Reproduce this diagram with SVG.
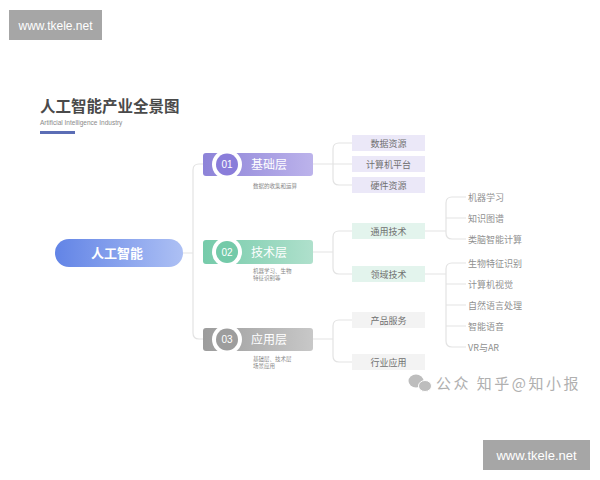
<svg xmlns="http://www.w3.org/2000/svg" width="600" height="480" viewBox="0 0 600 480">
<defs>
<linearGradient id="gMain" x1="0" y1="0" x2="1" y2="0"><stop offset="0" stop-color="#6284e6"/><stop offset="1" stop-color="#adc0f4"/></linearGradient>
<linearGradient id="gP" x1="0" y1="0" x2="1" y2="0"><stop offset="0" stop-color="#8d83d8"/><stop offset="1" stop-color="#bcb3eb"/></linearGradient>
<linearGradient id="gG" x1="0" y1="0" x2="1" y2="0"><stop offset="0" stop-color="#76cbaa"/><stop offset="1" stop-color="#afe0cc"/></linearGradient>
<linearGradient id="gA" x1="0" y1="0" x2="1" y2="0"><stop offset="0" stop-color="#9c9c9c"/><stop offset="1" stop-color="#c8c8c8"/></linearGradient>
<style>
.t{font-family:"Noto Sans CJK SC","Liberation Sans",sans-serif;}
.ln{fill:none;stroke:#e3e3e3;stroke-width:1.2;}
.lt{font-size:12px;fill:#fff;text-anchor:middle;}
.num{font-size:10px;fill:#fff;text-anchor:middle;font-family:"Liberation Sans",sans-serif;}
.sub{font-size:5.5px;fill:#888;}
.l2{font-size:9px;fill:#707070;text-anchor:middle;}
.l3{font-size:9px;fill:#909090;}
.ring{fill:#fff;}
</style>
</defs>
<rect width="600" height="480" fill="#fff"/>
<g id="wm-top"><rect x="9" y="10" width="93" height="30" fill="#a6a6a6"/><text x="55.5" y="29.5" font-size="12" fill="#fff" text-anchor="middle" font-family="Liberation Sans,sans-serif">www.tkele.net</text></g>
<g id="wm-bottom"><rect x="483" y="440" width="107" height="30" fill="#a6a6a6"/><text x="536.5" y="459.5" font-size="13" fill="#fff" text-anchor="middle" font-family="Liberation Sans,sans-serif">www.tkele.net</text></g>
<g id="title">
<text class="t" x="40" y="112" font-size="15.5" font-weight="bold" fill="#4a4a4a">人工智能产业全景图</text>
<text x="40" y="125" font-size="6.5" fill="#8a8a8a" font-family="Liberation Sans,sans-serif">Artificial Intelligence Industry</text>
<rect x="40" y="131" width="35" height="3" fill="#5b6db5"/>
</g>
<g id="connectors">
<path class="ln" d="M183 253 H193 M313 164 H333 M313 252 H333 M313 339 H333 M425 231 H446 M425 274 H446"/>
<path class="ln" d="M213 164 H199 Q193 164 193 170 V333 Q193 339 199 339 H213"/>
<path class="ln" d="M352 143 H339 Q333 143 333 149 V179 Q333 185 339 185 H352 M333 164 H352"/>
<path class="ln" d="M352 231 H339 Q333 231 333 237 V268 Q333 274 339 274 H352"/>
<path class="ln" d="M352 320 H339 Q333 320 333 326 V356 Q333 362 339 362 H352"/>
<path class="ln" d="M466 197 H452 Q446 197 446 203 V233 Q446 239 452 239 H466 M446 218 H466"/>
<path class="ln" d="M466 263 H452 Q446 263 446 269 V341 Q446 347 452 347 H466 M446 284 H466 M446 305 H466 M446 326 H466"/>
</g>
<g id="root"><rect x="55" y="239" width="128" height="28" rx="14" fill="url(#gMain)"/><text class="t" x="117" y="258" font-size="13" font-weight="bold" fill="#fff" text-anchor="middle">人工智能</text></g>
<g id="layer1">
<rect x="203" y="153" width="110" height="23" rx="3" fill="url(#gP)"/>
<circle class="ring" cx="227" cy="164.5" r="15"/><circle cx="227" cy="164.5" r="11" fill="#8a7dda"/>
<text class="num" x="227" y="168">01</text>
<text class="t lt" x="269" y="169">基础层</text>
<text class="t sub" x="253" y="188">数据的收集和运算</text>
</g>
<g id="layer2">
<rect x="203" y="240" width="110" height="24" rx="3" fill="url(#gG)"/>
<circle class="ring" cx="227" cy="252" r="15"/><circle cx="227" cy="252" r="11" fill="#74caa9"/>
<text class="num" x="227" y="255.5">02</text>
<text class="t lt" x="269" y="256.5">技术层</text>
<text class="t sub" x="253" y="273">机器学习、生物</text>
<text class="t sub" x="253" y="280">特征识别等</text>
</g>
<g id="layer3">
<rect x="203" y="328" width="110" height="23" rx="3" fill="url(#gA)"/>
<circle class="ring" cx="227" cy="339.5" r="15"/><circle cx="227" cy="339.5" r="11" fill="#9d9d9d"/>
<text class="num" x="227" y="343">03</text>
<text class="t lt" x="269" y="344">应用层</text>
<text class="t sub" x="253" y="361">基础层、技术层</text>
<text class="t sub" x="253" y="368">场景应用</text>
</g>
<g id="n-data"><rect x="352" y="135" width="73" height="16" fill="#ebe8f8"/><text class="t l2" x="388.5" y="146.5">数据资源</text></g>
<g id="n-comp"><rect x="352" y="156" width="73" height="16" fill="#ebe8f8"/><text class="t l2" x="388.5" y="167.5">计算机平台</text></g>
<g id="n-hw"><rect x="352" y="177" width="73" height="16" fill="#ebe8f8"/><text class="t l2" x="388.5" y="188.5">硬件资源</text></g>
<g id="n-gen"><rect x="352" y="223" width="73" height="16" fill="#e3f4ed"/><text class="t l2" x="388.5" y="234.5">通用技术</text></g>
<g id="n-dom"><rect x="352" y="266" width="73" height="16" fill="#e3f4ed"/><text class="t l2" x="388.5" y="277.5">领域技术</text></g>
<g id="n-prod"><rect x="352" y="312" width="73" height="16" fill="#f3f3f3"/><text class="t l2" x="388.5" y="323.5">产品服务</text></g>
<g id="n-ind"><rect x="352" y="354" width="73" height="16" fill="#f3f3f3"/><text class="t l2" x="388.5" y="365.5">行业应用</text></g>
<g id="n-ml"><text class="t l3" x="468" y="200.5">机器学习</text></g>
<g id="n-kg"><text class="t l3" x="468" y="221.5">知识图谱</text></g>
<g id="n-brain"><text class="t l3" x="468" y="242.5">类脑智能计算</text></g>
<g id="n-bio"><text class="t l3" x="468" y="266.5">生物特征识别</text></g>
<g id="n-cv"><text class="t l3" x="468" y="287.5">计算机视觉</text></g>
<g id="n-nlp"><text class="t l3" x="468" y="308.5">自然语言处理</text></g>
<g id="n-voice"><text class="t l3" x="468" y="329.5">智能语音</text></g>
<g id="n-vr"><text class="t l3" x="468" y="350.5">VR与AR</text></g>
<g id="footer">
<ellipse cx="416" cy="381" rx="7.5" ry="6.5" fill="#bdbdbd"/><ellipse cx="425" cy="386" rx="6.5" ry="5.5" fill="#bdbdbd" stroke="#fff" stroke-width="1"/>
<text class="t" x="436" y="389" font-size="15" fill="#b0b0b0" letter-spacing="2.5">公众 知乎@知小报</text>
</g>
</svg>
